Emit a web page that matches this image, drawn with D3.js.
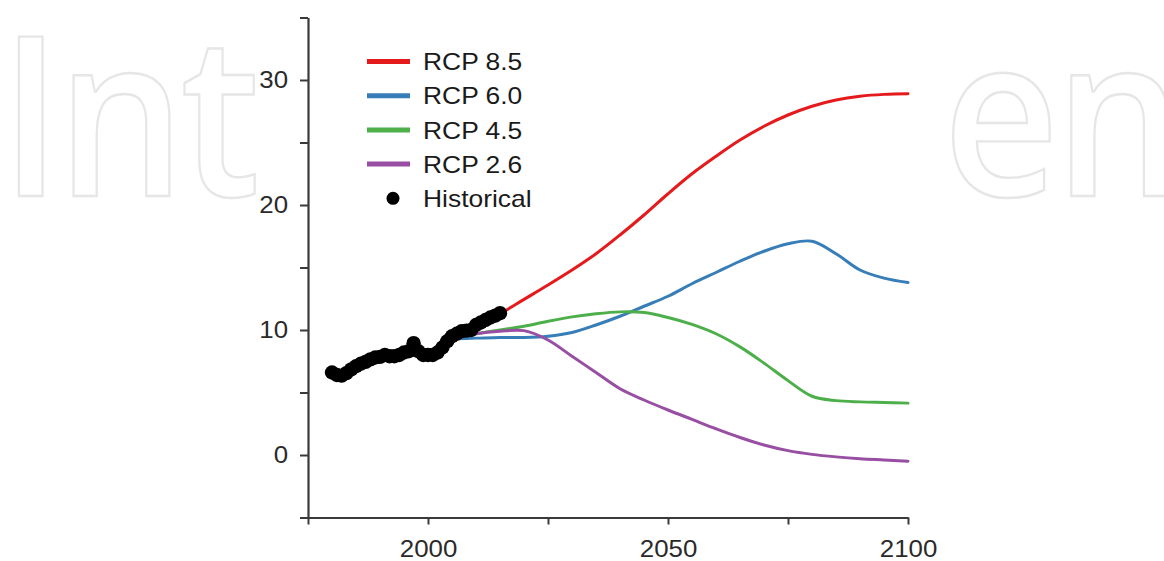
<!DOCTYPE html>
<html>
<head>
<meta charset="utf-8">
<script src="https://cdn.jsdelivr.net/npm/d3@7"></script>
<style>
  html, body { margin: 0; padding: 0; background: #ffffff; }
  svg { display: block; }
</style>
</head>
<body>
<svg id="chart" width="1164" height="561"></svg>
<script>
// ---- data -------------------------------------------------------------
const scenarioYears = [2005, 2010, 2015, 2020, 2025, 2030, 2035, 2040, 2045, 2050,
                       2055, 2060, 2065, 2070, 2075, 2080, 2085, 2090, 2095, 2100];
const rcp85 = [9.4, 10.3, 11.3, 12.45, 13.6, 14.8, 16.1, 17.6, 19.2, 20.9,
               22.5, 23.9, 25.2, 26.3, 27.2, 27.9, 28.4, 28.7, 28.85, 28.9];
const rcp60 = [9.3, 9.35, 9.4, 9.4, 9.5, 9.8, 10.4, 11.1, 11.9, 12.7,
               13.7, 14.6, 15.5, 16.3, 16.9, 17.1, 16.1, 14.8, 14.15, 13.8];
const rcp45 = [9.3, 9.7, 10.0, 10.3, 10.7, 11.05, 11.3, 11.45, 11.4, 11.0,
               10.45, 9.7, 8.65, 7.35, 5.95, 4.7, 4.35, 4.25, 4.2, 4.15];
const rcp26 = [9.3, 9.7, 9.9, 9.95, 9.2, 7.9, 6.6, 5.3, 4.4, 3.6,
               2.85, 2.1, 1.4, 0.8, 0.35, 0.05, -0.15, -0.3, -0.4, -0.5];

const histYears = [1980, 1981, 1982, 1983, 1984, 1985, 1986, 1987, 1988, 1989,
                   1990, 1991, 1992, 1993, 1994, 1995, 1996, 1997, 1998, 1999,
                   2000, 2001, 2002, 2003, 2004, 2005, 2006, 2007, 2008, 2009,
                   2010, 2011, 2012, 2013, 2014, 2015];
const histValues = [6.6, 6.4, 6.35, 6.55, 6.85, 7.1, 7.3, 7.45, 7.65, 7.8,
                    7.85, 8.0, 7.9, 7.9, 8.0, 8.2, 8.3, 8.95, 8.3, 8.0,
                    8.0, 8.0, 8.2, 8.6, 9.1, 9.5, 9.7, 9.9, 9.95, 10.0,
                    10.4, 10.6, 10.8, 11.0, 11.15, 11.35];

const seriesNames = ["RCP 8.5", "RCP 6.0", "RCP 4.5", "RCP 2.6"];
const seriesValues = [rcp85, rcp60, rcp45, rcp26];
const seriesColors = ["#e41a1c", "#377eb8", "#4daf4a", "#984ea3"];
const historicalLabel = "Historical";

const xTickValues = [1975, 2000, 2025, 2050, 2075, 2100];
const xTickLabels = ["", "2000", "", "2050", "", "2100"];
const yTickValues = [-5, 0, 5, 10, 15, 20, 25, 30, 35];
const yTickLabels = ["", "0", "", "10", "", "20", "", "30", ""];

// background lettering: the parts left uncovered by the plot plate
const lettering = [
  { text: "Int", x: 0 },
  { text: "en", x: 943 }
];

// ---- setup ------------------------------------------------------------
const svg = d3.select("#chart");
const W = 1164, H = 561;
const FONT = "'Liberation Sans', Arial, Helvetica, sans-serif";
const STRETCH = 1.1;   // labels are set slightly wide

const x = d3.scaleLinear().domain([1975, 2100]).range([308, 908]);
const y = d3.scaleLinear().domain([-5, 35]).range([517.5, 17.5]);

function widen(sel, k) {
  sel.each(function () {
    const w = this.getComputedTextLength();
    if (w > 0) d3.select(this).attr("textLength", w * k).attr("lengthAdjust", "spacingAndGlyphs");
  });
}

svg.append("rect").attr("width", W).attr("height", H).attr("fill", "#ffffff");

svg.append("g").selectAll("text")
  .data(lettering)
  .join("text")
  .attr("transform", d => `translate(${d.x},196) scale(0.9,1)`)
  .attr("font-family", "'Open Sans', sans-serif")
  .attr("font-weight", 600)
  .attr("font-size", 224)
  .attr("letter-spacing", -5)
  .attr("fill", "none")
  .attr("stroke", "#e6e6e6")
  .attr("stroke-width", 2.4)
  .text(d => d.text);

// ---- scenario lines ---------------------------------------------------
const line = d3.line()
  .x(d => x(d.year))
  .y(d => y(d.value))
  .curve(d3.curveCatmullRom.alpha(0.5));

const plot = svg.append("g");
seriesValues.forEach((vals, i) => {
  const pts = scenarioYears.map((yr, j) => ({ year: yr, value: vals[j] }));
  plot.append("path")
    .datum(pts)
    .attr("d", line)
    .attr("fill", "none")
    .attr("stroke", seriesColors[i])
    .attr("stroke-width", 3)
    .attr("stroke-linejoin", "round")
    .attr("stroke-linecap", "round");
});

// ---- historical dots --------------------------------------------------
plot.selectAll("circle.hist")
  .data(histYears.map((yr, i) => ({ year: yr, value: histValues[i] })))
  .join("circle")
  .attr("class", "hist")
  .attr("cx", d => x(d.year))
  .attr("cy", d => y(d.value))
  .attr("r", 7.2)
  .attr("fill", "#000000");

// ---- axes -------------------------------------------------------------
const xAxis = d3.axisBottom(x)
  .tickValues(xTickValues)
  .tickFormat((d, i) => xTickLabels[i])
  .tickSizeInner(7)
  .tickSizeOuter(0)
  .tickPadding(16);

const yAxis = d3.axisLeft(y)
  .tickValues(yTickValues)
  .tickFormat((d, i) => yTickLabels[i])
  .tickSizeInner(8)
  .tickSizeOuter(0)
  .tickPadding(12);

const gx = svg.append("g").attr("transform", `translate(0,${y(-5)})`).call(xAxis);
const gy = svg.append("g").attr("transform", `translate(${x(1975)},0)`).call(yAxis);

[gx, gy].forEach(g => {
  g.select(".domain").attr("stroke", "#3a3a3a").attr("stroke-width", 2.2);
  g.selectAll(".tick line").attr("stroke", "#3a3a3a").attr("stroke-width", 2);
  g.selectAll(".tick text")
    .attr("font-family", FONT)
    .attr("font-size", 23.5)
    .attr("fill", "#2a2a2a");
});
widen(gx.selectAll(".tick text"), STRETCH);
widen(gy.selectAll(".tick text"), STRETCH);

// ---- legend -----------------------------------------------------------
const legend = svg.append("g");
const rowY = i => 61.5 + i * 34.2;

seriesNames.forEach((name, i) => {
  legend.append("line")
    .attr("x1", 367).attr("x2", 410)
    .attr("y1", rowY(i)).attr("y2", rowY(i))
    .attr("stroke", seriesColors[i])
    .attr("stroke-width", 5);
  legend.append("text")
    .attr("x", 423).attr("y", rowY(i)).attr("dy", "0.36em")
    .attr("font-family", FONT).attr("font-size", 24).attr("fill", "#1a1a1a")
    .text(name);
});
legend.append("circle")
  .attr("cx", 393).attr("cy", rowY(4))
  .attr("r", 6.5)
  .attr("fill", "#000000");
legend.append("text")
  .attr("x", 423).attr("y", rowY(4)).attr("dy", "0.36em")
  .attr("font-family", FONT).attr("font-size", 24).attr("fill", "#1a1a1a")
  .text(historicalLabel);
widen(legend.selectAll("text"), STRETCH);
</script>
</body>
</html>
